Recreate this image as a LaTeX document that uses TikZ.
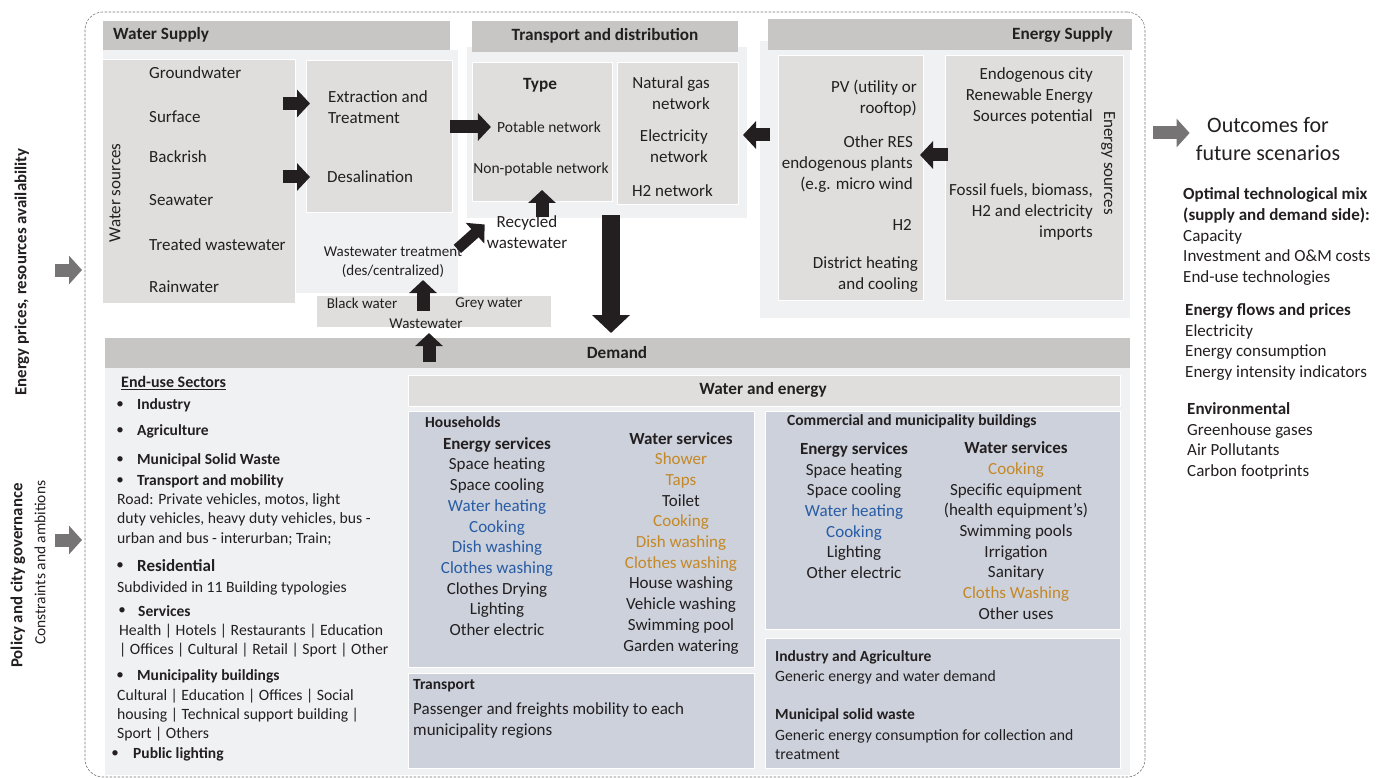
\documentclass[tikz,border=0pt]{standalone}
\usepackage{fontspec}
\setmainfont{Carlito}
\usepackage{tikz}
\usetikzlibrary{arrows.meta,calc,positioning}

\definecolor{hdrgray}{RGB}{199,198,197}
\definecolor{boxgray}{RGB}{223,222,221}
\definecolor{panelgray}{RGB}{240,241,243}
\definecolor{bluegray}{RGB}{204,209,219}
\definecolor{ink}{RGB}{35,31,32}
\definecolor{svcblue}{RGB}{40,92,165}
\definecolor{svcorange}{RGB}{197,136,38}
\definecolor{arrgray}{RGB}{118,116,116}

\begin{document}
\begin{tikzpicture}[x=1pt,y=-1pt,
  every node/.style={text=ink, inner sep=0pt},
  area/.style={anchor=north west, inner sep=0pt, outer sep=0pt},
  hdr/.style={area, fill=hdrgray},
  panel/.style={area, fill=panelgray},
  box/.style={area, fill=boxgray, draw=white, line width=0.8pt},
  bluebox/.style={area, fill=bluegray, draw=white, line width=0.8pt},
  big/.style={font=\fontsize{17}{20.7}\selectfont},
  mid/.style={font=\fontsize{15.5}{19.5}\selectfont},
  small/.style={font=\fontsize{15.7}{19.3}\selectfont},
  tiny/.style={font=\fontsize{15}{19}\selectfont},
  title/.style={font=\fontsize{17.2}{20.7}\selectfont\bfseries},
  subtitle/.style={font=\fontsize{15.5}{19.5}\selectfont\bfseries},
  side/.style={font=\fontsize{16.8}{20}\selectfont\bfseries, rotate=90},
  blk/.style={draw=ink, line width=13pt, -{Triangle[length=13pt,width=27pt]}},
  bigblk/.style={draw=ink, line width=18pt, -{Triangle[length=18pt,width=37pt]}},
  garr/.style={draw=arrgray, line width=13pt, -{Triangle[length=13pt,width=28pt]}}
]
\useasboundingbox (0,0) rectangle (1386,778);

% outer frame
\node[area, draw=arrgray, dash pattern=on 2.5pt off 1.5pt, line width=0.6pt, rounded corners=18pt,
  minimum width=1060pt, minimum height=765pt] (frame) at (85,12) {};

% water supply
\node[panel, minimum width=355pt, minimum height=243pt] (wsp) at (103,50) {};
\node[hdr, minimum width=347pt, minimum height=29pt] (wsh) at (103,21) {};
\node[box, minimum width=193pt, minimum height=244pt] (ws) at (102,59) {};
\node[box, minimum width=146pt, minimum height=152pt] (ext) at (306,60) {};
\node[box, minimum width=235pt, minimum height=32pt] (bw) at (316,295) {};

% transport and distribution
\node[panel, minimum width=280pt, minimum height=171pt] (tp) at (467,47) {};
\node[hdr, minimum width=266pt, minimum height=31pt] (tph) at (472,21) {};
\node[box, minimum width=140pt, minimum height=139pt] (type) at (472,62) {};
\node[box, minimum width=121pt, minimum height=142pt] (net) at (617,62) {};

% energy supply
\node[panel, minimum width=370pt, minimum height=277pt] (esp) at (760,41) {};
\node[hdr, minimum width=364pt, minimum height=31pt] (esh) at (768,19) {};
\node[box, minimum width=145pt, minimum height=245pt] (pv) at (778,55) {};
\node[box, minimum width=178pt, minimum height=245pt] (src) at (945,55) {};

% demand
\node[panel, minimum width=1025pt, minimum height=407pt] (dp) at (105,368) {};
\node[hdr, minimum width=1025pt, minimum height=30pt] (dem) at (105,338) {};
\node[box, minimum width=712pt, minimum height=31pt] (we) at (408,375) {};
\node[bluebox, minimum width=346pt, minimum height=256pt] (hh) at (408,411) {};
\node[bluebox, minimum width=355pt, minimum height=218pt] (com) at (765,411) {};
\node[bluebox, minimum width=346pt, minimum height=95pt] (trd) at (408,673) {};
\node[bluebox, minimum width=355pt, minimum height=130pt] (ind) at (765,638) {};

% water supply texts
\node[title, anchor=west] at (113,35) {Water Supply};
\foreach \src/\yy in {Groundwater/73, Surface/117, Backrish/157, Seawater/200, Treated wastewater/245, Rainwater/287}
  \node[big, anchor=west] at (149,\yy) {\src};
\node[big, rotate=90] at (115,193) {Water sources};
\node[big, anchor=west, align=left] (exttxt) at (328,107.5) {Extraction and\\Treatment};
\node[big, anchor=west] (desal) at (327,177) {Desalination};
\node[tiny, align=center] (wwt) at (393,262.5) {Wastewater treatment\\(des/centralized)};
\node[tiny] (blkw) at (362,303) {Black water};
\node[tiny] (gryw) at (489,304) {Grey water};
\node[tiny] (ww) at (426,324) {Wastewater};

% transport texts
\node[title] at (605,36) {Transport and distribution};
\node[title] at (540,85) {Type};
\node[mid] (pot) at (549,127) {Potable network};
\node[mid] (npot) at (541,169) {Non-potable network};
\node[big, anchor=east, align=right] at (710,93.5) {Natural gas\\network};
\node[big, anchor=east, align=right] at (708,146) {Electricity\\network};
\node[big, anchor=east] at (713,191) {H2 network};
\node[big, align=center] (rec) at (527,232.5) {Recycled\\wastewater};

% energy supply texts
\node[title, anchor=east] at (1113,35) {Energy Supply};
\node[big, anchor=east, align=right] at (917,98) {PV (utility or\\rooftop)};
\node[big, anchor=east, align=right] (othres) at (913,164) {Other RES\\endogenous plants\\(e.g. micro wind};
\node[big, anchor=east] at (912,225) {H2};
\node[big, anchor=east, align=right] at (918,274.5) {District heating\\and cooling};
\node[big, anchor=east, align=right] at (1093,96) {Endogenous city\\Renewable Energy\\Sources potential};
\node[big, anchor=east, align=right] at (1093,212) {Fossil fuels, biomass,\\H2 and electricity\\imports};
\node[big, rotate=-90] at (1108,163) {Energy sources};

% drivers on the left
\node[side] (ep) at (22,272) {Energy prices, resources availability};
\node[side, anchor=west] (pol) at (18,668) {Policy and city governance};
\node[mid, rotate=90, anchor=west] (con) at (40,645) {Constraints and ambitions};

% outcomes
\node[font=\fontsize{22}{28}\selectfont, align=center] (out) at (1268,139) {Outcomes for\\future scenarios};
\node[big, anchor=west, align=left] at (1183,236.5) {\textbf{Optimal technological mix}\\\textbf{(supply and demand side):}\\Capacity\\Investment and O\&M costs\\End-use technologies};
\node[big, anchor=west, align=left] at (1185,342) {\textbf{Energy flows and prices}\\Electricity\\Energy consumption\\Energy intensity indicators};
\node[big, anchor=west, align=left] at (1187,441) {\textbf{Environmental}\\Greenhouse gases\\Air Pollutants\\Carbon footprints};

% demand texts
\node[title] at (617,353) {Demand};
\node[title] at (763,390) {Water and energy};
\node[font=\fontsize{16}{19}\selectfont\bfseries, anchor=west] at (121,383) {\underline{End-use Sectors}};
\foreach \bx/\tx/\yy/\secname in {120/137/405/Industry, 120/137/431/Agriculture, 120/137/460/Municipal Solid Waste,
    120/137/481/Transport and mobility, 122/138/611/Services, 120/137/676/Municipality buildings, 115/133/754/Public lighting}{
  \node[tiny] at (\bx,\yy) {\textbullet};
  \node[subtitle, anchor=west] at (\tx,\yy) {\secname};
}
\node[tiny] at (120,566) {\textbullet};
\node[font=\fontsize{17}{20}\selectfont\bfseries, anchor=west] at (137,566) {Residential};
\node[small, anchor=west, align=left] at (117,519.5) {Road: Private vehicles, motos, light\\duty vehicles, heavy duty vehicles, bus -\\urban and bus - interurban; Train;};
\node[small, anchor=west] at (117,588) {Subdivided in 11 Building typologies};
\node[small, anchor=west, align=left] at (119,640.5) {Health | Hotels | Restaurants | Education\\| Offices | Cultural | Retail | Sport | Other};
\node[small, anchor=west, align=left] at (117,715) {Cultural | Education | Offices | Social\\housing | Technical support building |\\Sport | Others};

% households
\node[subtitle, anchor=west] at (425,422) {Households};
\node[big, align=center] at (497,536.5) {\textbf{Energy services}\\Space heating\\Space cooling\\\textcolor{svcblue}{Water heating}\\\textcolor{svcblue}{Cooking}\\\textcolor{svcblue}{Dish washing}\\\textcolor{svcblue}{Clothes washing}\\Clothes Drying\\Lighting\\Other electric};
\node[big, align=center] at (681,543) {\textbf{Water services}\\\textcolor{svcorange}{Shower}\\\textcolor{svcorange}{Taps}\\Toilet\\\textcolor{svcorange}{Cooking}\\\textcolor{svcorange}{Dish washing}\\\textcolor{svcorange}{Clothes washing}\\House washing\\Vehicle washing\\Swimming pool\\Garden watering};

% commercial and municipality buildings
\node[subtitle, anchor=west] at (787,421) {Commercial and municipality buildings};
\node[big, align=center] at (854,510.5) {\textbf{Energy services}\\Space heating\\Space cooling\\\textcolor{svcblue}{Water heating}\\\textcolor{svcblue}{Cooking}\\Lighting\\Other electric};
\node[big, align=center] at (1016,530.5) {\textbf{Water services}\\\textcolor{svcorange}{Cooking}\\Specific equipment\\(health equipment's)\\Swimming pools\\Irrigation\\Sanitary\\\textcolor{svcorange}{Cloths Washing}\\Other uses};

% transport demand
\node[subtitle, anchor=west] at (413,686) {Transport};
\node[big, anchor=west, align=left] at (413,720.5) {Passenger and freights mobility to each\\municipality regions};

% industry and waste
\node[subtitle, anchor=west] at (775,657) {Industry and Agriculture};
\node[small, anchor=west] at (775,677) {Generic energy and water demand};
\node[subtitle, anchor=west] at (775,715) {Municipal solid waste};
\node[small, anchor=west, align=left] at (775,744.5) {Generic energy consumption for collection and\\treatment};

% black flow arrows
\draw[blk] ($(ws.east |- exttxt.west)+(-12,-4)$) -- ($(ext.west |- exttxt.west)+(4,-4)$);
\draw[blk] ($(ws.east |- desal.west)+(-12,0)$) -- ($(ext.west |- desal.west)+(4,0)$);
\draw[blk] ($(ext.east |- pot.west)+(-2,0)$) -- ($(pot.west)+(-6,0)$);
\draw[blk] ($(pv.west |- net.east)+(-8,2)$) -- ($(net.east)+(5,2)$);
\draw[blk] ($(src.west |- othres.east)+(3,-9)$) -- ($(pv.east |- othres.east)+(-3,-9)$);
\draw[blk] ($(type.south)+(0,16)$) -- ($(type.south)+(0,-11)$);
\draw[blk, line width=11pt] ($(wwt.north east)+(-5,2)$) -- ($(rec.west)+(-2,-8)$);
\draw[blk] ($(ww.north |- bw.north)+(-3,16)$) -- ($(ww.north |- wwt.south)+(-3,2)$);
\draw[blk] ($(ww.south |- dem.north)+(3,24)$) -- ($(ww.south)+(3,4)$);
\draw[bigblk] ($(type.east |- tp.south)+(-1,-3)$) -- ($(type.east |- dem.north)+(-1,-5)$);

% grey input / output arrows
\draw[garr] ($(ep.center)+(33,-2)$) -- ($(frame.west |- ep.center)+(-3,-2)$);
\draw[garr] ($(frame.west)+(-30,145.5)$) -- ($(frame.west)+(-3,145.5)$);
\draw[garr] ($(frame.east |- out.west)+(8,-6)$) -- ($(out.west)+(-6,-6)$);
\end{tikzpicture}
\end{document}
